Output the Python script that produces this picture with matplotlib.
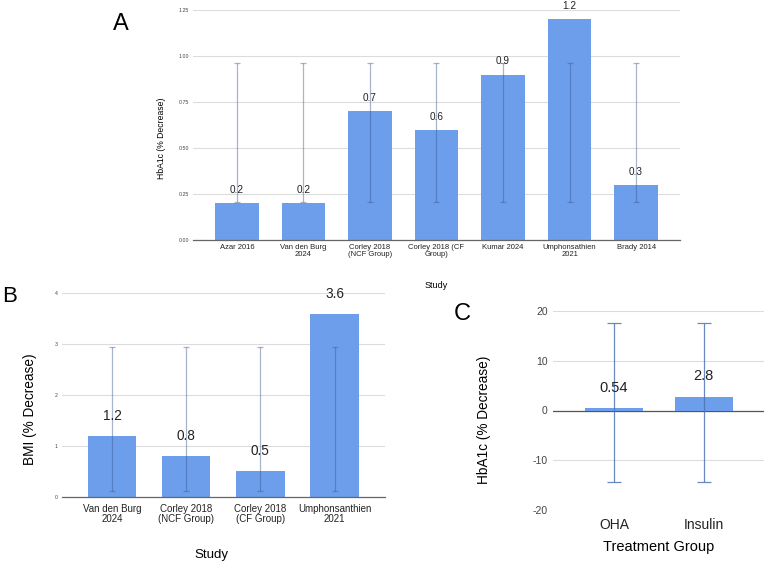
import numpy as np
import matplotlib
matplotlib.use('Agg')
import matplotlib.pyplot as plt

plt.rcParams['font.family'] = ['Liberation Sans', 'DejaVu Sans']
plt.rcParams['axes.unicode_minus'] = False

# -- panel A data --
studies_a = ['Azar 2016', 'Van den Burg\n2024', 'Corley 2018\n(NCF Group)',
             'Corley 2018 (CF\nGroup)', 'Kumar 2024', 'Umphonsathien\n2021', 'Brady 2014']
hba1c_a = [0.2, 0.2, 0.7, 0.6, 0.9, 1.2, 0.3]
err_lo_a = [0.205, 0.205, 0.205, 0.205, 0.205, 0.205, 0.205]
err_hi_a = [0.965, 0.965, 0.965, 0.965, 0.965, 0.965, 0.965]
yticks_a = [0.0, 0.25, 0.5, 0.75, 1.0, 1.25]

# -- panel B data --
studies_b = ['Van den Burg\n2024', 'Corley 2018\n(NCF Group)', 'Corley 2018\n(CF Group)',
             'Umphonsanthien\n2021']
bmi_b = [1.2, 0.8, 0.5, 3.6]
err_lo_b = [0.11, 0.11, 0.11, 0.11]
err_hi_b = [2.94, 2.94, 2.94, 2.94]
yticks_b = [0, 1, 2, 3, 4]

# -- panel C data --
groups_c = ['OHA', 'Insulin']
hba1c_c = [0.54, 2.8]
err_lo_c = [-14.3, -14.3]
err_hi_c = [17.5, 17.5]
yticks_c = [-20, -10, 0, 10, 20]

W, H = 767, 565
bar_col = '#6d9eeb'
grid_col = '#dcdcdc'

fig = plt.figure(figsize=(W / 100, H / 100), dpi=100)


def box(l, t, r, b):
    return [l / W, 1 - b / H, (r - l) / W, (b - t) / H]


def ftext(x, y, s, **kw):
    fig.text(x / W, 1 - y / H, s, ha='center', va='center', **kw)


def panel(ax, cats, vals, lo, hi, yt, ylim, xpad, tick_fs, cat_fs, val_fs,
          val_off, cap, ecol, ealpha, xpad_lab, ypad_lab, fmt=None, zero_line=False):
    x = np.arange(len(cats))
    ax.bar(x, vals, width=0.65, color=bar_col, zorder=2)
    lo = np.array(lo)
    hi = np.array(hi)
    ax.errorbar(x, (lo + hi) / 2, yerr=(hi - lo) / 2, fmt='none', ecolor=ecol,
                alpha=ealpha, elinewidth=0.9, capsize=cap, capthick=0.9, zorder=3)
    for xi, v in zip(x, vals):
        ax.annotate(f'{v:g}', (xi, v), xytext=(0, val_off), textcoords='offset points',
                    ha='center', va='center', fontsize=val_fs, color='#222222', zorder=4)
    ax.set_xlim(-xpad, len(cats) - 1 + xpad)
    ax.set_ylim(*ylim)
    ax.set_yticks(yt)
    if fmt:
        ax.set_yticklabels([fmt % t for t in yt])
    ax.set_xticks(x)
    ax.set_xticklabels(cats, fontsize=cat_fs, linespacing=1.05, color='#222222')
    ax.tick_params(axis='y', length=0, labelsize=tick_fs, labelcolor='#444444', pad=ypad_lab)
    ax.tick_params(axis='x', length=0, pad=xpad_lab)
    ax.grid(axis='y', color=grid_col, lw=0.8, zorder=0)
    ax.set_axisbelow(True)
    for s in ['top', 'right', 'left']:
        ax.spines[s].set_visible(False)
    if zero_line:
        ax.spines['bottom'].set_visible(False)
        ax.axhline(0, color='#555555', lw=0.9, zorder=1)
    else:
        ax.spines['bottom'].set_color('#666666')
        ax.spines['bottom'].set_linewidth(0.9)


# === panel A ===
ax_a = fig.add_axes(box(193, 10.3, 680, 240))
panel(ax_a, studies_a, hba1c_a, err_lo_a, err_hi_a, yticks_a, (0, 1.25), 0.66,
      3.8, 5.5, 7.2, 9.5, 2.5, '#3b5b92', 0.45, 3, 3, fmt='%.2f')
ftext(436.5, 285, 'Study', fontsize=6.5)
ftext(162, 138, 'HbA1c (% Decrease)', fontsize=6.2, rotation=90)
ftext(121, 24, 'A', fontsize=17)

# === panel B ===
ax_b = fig.add_axes(box(61.7, 293.3, 385, 496.7))
panel(ax_b, studies_b, bmi_b, err_lo_b, err_hi_b, yticks_b, (0, 4), 0.68,
      3.8, 7, 9.8, 14.5, 2.5, '#3b5b92', 0.45, 5, 3)
ftext(211, 555, 'Study', fontsize=9.5)
ftext(30, 409, 'BMI (% Decrease)', fontsize=9.8, rotation=90)
ftext(9.5, 297, 'B', fontsize=16)

# === panel C ===
ax_c = fig.add_axes(box(553.3, 311, 764.3, 510))
panel(ax_c, groups_c, hba1c_c, err_lo_c, err_hi_c, yticks_c, (-20, 20), 0.675,
      7.5, 10, 10.5, 14.5, 5, '#4f73b5', 0.85, 6, 4, zero_line=True)
ftext(658.6, 547, 'Treatment Group', fontsize=10.5)
ftext(484, 420, 'HbA1c (% Decrease)', fontsize=9.8, rotation=90)
ftext(462, 314, 'C', fontsize=17)

fig.savefig('out.png', dpi=100)
